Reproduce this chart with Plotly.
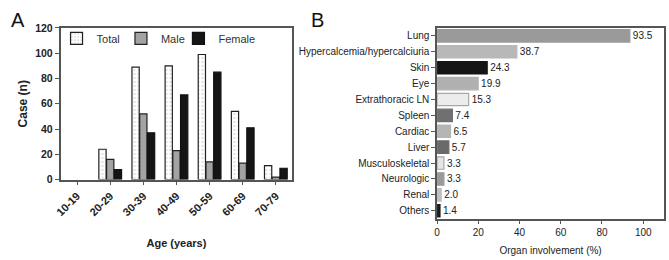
import plotly.graph_objects as go

# Panel A data
age_groups = ["10-19", "20-29", "30-39", "40-49", "50-59", "60-69", "70-79"]
total_cases = [0, 24, 89, 90, 99, 54, 11]
male_cases = [0, 16, 52, 23, 14, 13, 2]
female_cases = [0, 8, 37, 67, 85, 41, 9]

# Panel B data
organs = ["Lung", "Hypercalcemia/hypercalciuria", "Skin", "Eye", "Extrathoracic LN",
          "Spleen", "Cardiac", "Liver", "Musculoskeletal", "Neurologic", "Renal", "Others"]
involvement = [93.5, 38.7, 24.3, 19.9, 15.3, 7.4, 6.5, 5.7, 3.3, 3.3, 2.0, 1.4]
organ_colors = ["#9a9a9a", "#b8b8b8", "#151515", "#b0b0b0", "#ececec", "#707070",
                "#b5b5b5", "#6a6a6a", "#e5e5e5", "#9a9a9a", "#c0c0c0", "#1a1a1a"]
organ_lines = ["#9a9a9a", "#b8b8b8", "#151515", "#b0b0b0", "#a8a8a8", "#707070",
               "#b5b5b5", "#6a6a6a", "#a8a8a8", "#9a9a9a", "#c0c0c0", "#1a1a1a"]

W, H = 669, 260
FONT = "Liberation Sans, Arial, sans-serif"
AX = "#555555"


def nz(vals):
    # zero-height bars are not drawn in the reference
    return [v if v != 0 else None for v in vals]


fig = go.Figure()

fig.add_trace(go.Bar(
    x=age_groups, y=nz(total_cases), name="Total", xaxis="x", yaxis="y", legend="legend",
    marker=dict(color="white", line=dict(color="#222", width=1.2),
                pattern=dict(shape=".", fgcolor="#888", bgcolor="white", size=4, solidity=0.15)),
))
fig.add_trace(go.Bar(
    x=age_groups, y=nz(male_cases), name="Male", xaxis="x", yaxis="y", legend="legend2",
    marker=dict(color="#a3a3a3", line=dict(color="#222", width=1.2)),
))
fig.add_trace(go.Bar(
    x=age_groups, y=nz(female_cases), name="Female", xaxis="x", yaxis="y", legend="legend3",
    marker=dict(color="#151515", line=dict(color="#111", width=1.2)),
))

fig.add_trace(go.Bar(
    x=involvement, y=organs, orientation="h", xaxis="x2", yaxis="y2", showlegend=False,
    marker=dict(color=organ_colors, line=dict(color=organ_lines, width=1.2)),
    text=[f"{v:.1f}" for v in involvement], textposition="outside",
    textfont=dict(family=FONT, size=10, color="#222"), cliponaxis=False,
    width=0.78,
))

leg_common = dict(orientation="h", y=1 - 34 / H, xanchor="left", yanchor="middle",
                  font=dict(size=11, family=FONT, color="#333"), bgcolor="rgba(0,0,0,0)")

fig.update_layout(
    width=W, height=H, margin=dict(l=0, r=0, t=0, b=0),
    paper_bgcolor="white", plot_bgcolor="white",
    barmode="group", bargap=0.3, bargroupgap=0.06,
    font=dict(family=FONT, color="#222"),
    showlegend=True,
    legend=dict(x=51 / W, **leg_common),
    legend2=dict(x=116 / W, **leg_common),
    legend3=dict(x=174 / W, **leg_common),
    xaxis=dict(domain=[55 / W, 289 / W], anchor="y", showline=True, linecolor=AX, linewidth=1.5,
               mirror=True, ticks="outside", ticklen=4, tickcolor=AX, tickangle=-45,
               tickfont=dict(size=11, family=FONT, color="#222", weight="bold"),
               title=dict(text="<b>Age (years)</b>", font=dict(size=11), standoff=22),
               showgrid=False),
    yaxis=dict(domain=[1 - 182 / H, 1 - 23 / H], anchor="x", range=[0, 120], dtick=20,
               showline=True, linecolor=AX, linewidth=1.5, mirror=True,
               ticks="outside", ticklen=4, tickcolor=AX, showgrid=False, zeroline=False,
               tickfont=dict(size=10.5, family=FONT, color="#222", weight="bold"),
               title=dict(text="<b>Case (n)</b>", font=dict(size=12), standoff=5)),
    xaxis2=dict(domain=[435 / W, 664 / W], anchor="y2", range=[0, 110.1], dtick=20,
                showline=True, linecolor=AX, linewidth=1.5, mirror=True,
                ticks="outside", ticklen=4, tickcolor=AX, showgrid=False, zeroline=False,
                tickfont=dict(size=10, family=FONT, color="#222"),
                title=dict(text="Organ involvement (%)", font=dict(size=10, family=FONT), standoff=10)),
    yaxis2=dict(domain=[1 - 223 / H, 1 - 23 / H], anchor="x2", autorange="reversed",
                showline=True, linecolor=AX, linewidth=1.5, mirror=True,
                ticks="outside", ticklen=4, tickcolor=AX, showgrid=False,
                tickfont=dict(size=10, family=FONT, color="#222")),
    annotations=[
        dict(text="A", x=3 / W, y=1 - 1 / H, xref="paper", yref="paper", xanchor="left", yanchor="top",
             showarrow=False, font=dict(size=20, family=FONT, color="#111")),
        dict(text="B", x=306 / W, y=1 - 1 / H, xref="paper", yref="paper", xanchor="left", yanchor="top",
             showarrow=False, font=dict(size=20, family=FONT, color="#111")),
    ],
)

fig.write_html("out.html", config={"displayModeBar": False},
               post_script="document.body.style.margin='0';")
